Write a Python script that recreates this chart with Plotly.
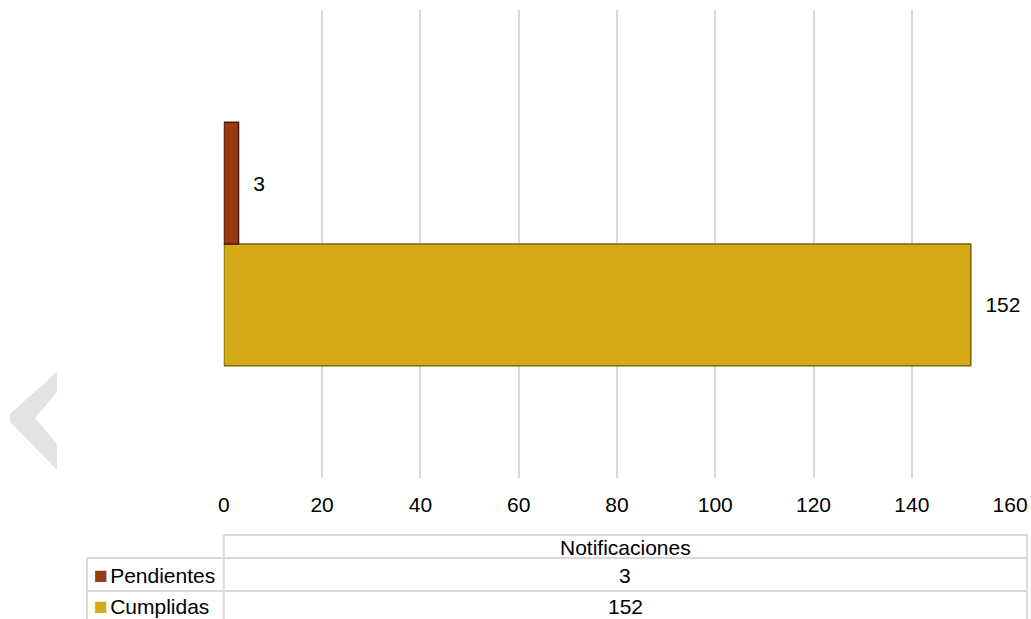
import plotly.graph_objects as go

# ---- data ----
category = ["Notificaciones"]
cumplidas = [152]
pendientes = [3]
x_ticks = [0, 20, 40, 60, 80, 100, 120, 140, 160]

# screenshot maps page x -> image x as 6 + 0.978*x (measured); compensate
AX, BX = 6.0, 0.978
W, H = 1048, 619
colors = {"Cumplidas": "#D4AA17", "Pendientes": "#983A12"}
edge = {"Cumplidas": "#7A6408", "Pendientes": "#4A1A06"}
FONT = "Liberation Sans, Arial, sans-serif"
FS = 21
GRID = "#D9D9D9"

def px(x):
    return ((x - AX) / BX) / W

def py(y):
    return 1 - y / H

fig = go.Figure()
for name, vals in [("Cumplidas", cumplidas), ("Pendientes", pendientes)]:
    fig.add_trace(go.Bar(
        y=category, x=vals, name=name, orientation="h",
        marker=dict(color=colors[name], line=dict(color=edge[name], width=1.5)),
        text=vals, texttemplate="\u00a0\u00a0%{x}", textposition="outside",
        textfont=dict(family=FONT, size=FS, color="#000000"),
        cliponaxis=False, showlegend=False,
    ))

shapes = []
# chevron decoration on the left
pts = [(57, 372), (10, 414), (10, 422), (57, 470), (57, 444), (35, 418), (57, 392)]
path = "M " + " L ".join(f"{px(a):.5f},{py(b):.5f}" for a, b in pts) + " Z"
shapes.append(dict(type="path", xref="paper", yref="paper", path=path,
                   fillcolor="#E3E3E3", line=dict(width=0), layer="below"))

# data table lines
def hline(y, x0, x1):
    shapes.append(dict(type="line", xref="paper", yref="paper",
                       x0=px(x0), x1=px(x1), y0=py(y), y1=py(y),
                       line=dict(color=GRID, width=2)))

def vline(x, y0, y1):
    shapes.append(dict(type="line", xref="paper", yref="paper",
                       x0=px(x), x1=px(x), y0=py(y0), y1=py(y1),
                       line=dict(color=GRID, width=2)))

hline(535, 224, 1028)
hline(558, 87, 1028)
hline(591, 87, 1028)
vline(87, 558, 625)
vline(224, 535, 625)
vline(1028, 535, 625)

annotations = []
def txt(x, y, s, anchor="center"):
    annotations.append(dict(xref="paper", yref="paper", x=px(x), y=py(y), text=s,
                            showarrow=False, xanchor=anchor, yanchor="middle",
                            font=dict(family=FONT, size=FS, color="#000000")))

txt(626, 547, category[0])
rows = [("Pendientes", pendientes[0], 575), ("Cumplidas", cumplidas[0], 606)]
for name, val, y in rows:
    txt(92, y, f"<span style='color:{colors[name]};font-size:23px'>■</span>"
               f"<span style='font-size:8px'>\u00a0</span>{name}", anchor="left")
    txt(626, y, str(val))

fig.update_layout(
    width=W, height=H, autosize=False,
    margin=dict(l=0, r=0, t=0, b=0),
    paper_bgcolor="white", plot_bgcolor="white",
    barmode="group", bargap=0.48, bargroupgap=0,
    font=dict(family=FONT, size=FS, color="#000000"),
    xaxis=dict(domain=[px(224), px(1011)], range=[0, 160], tickvals=x_ticks,
               showgrid=True, gridcolor=GRID, gridwidth=2, zeroline=False,
               showline=False, ticks="", ticklabelstandoff=12,
               tickfont=dict(family=FONT, size=FS, color="#000000")),
    yaxis=dict(domain=[py(478), py(10)], showticklabels=False,
               showgrid=False, zeroline=False, showline=False),
    shapes=shapes, annotations=annotations,
)

fig.write_html("out.html", config={"responsive": False, "displayModeBar": False},
               post_script="document.body.style.margin='0px';document.body.style.overflow='hidden';")
